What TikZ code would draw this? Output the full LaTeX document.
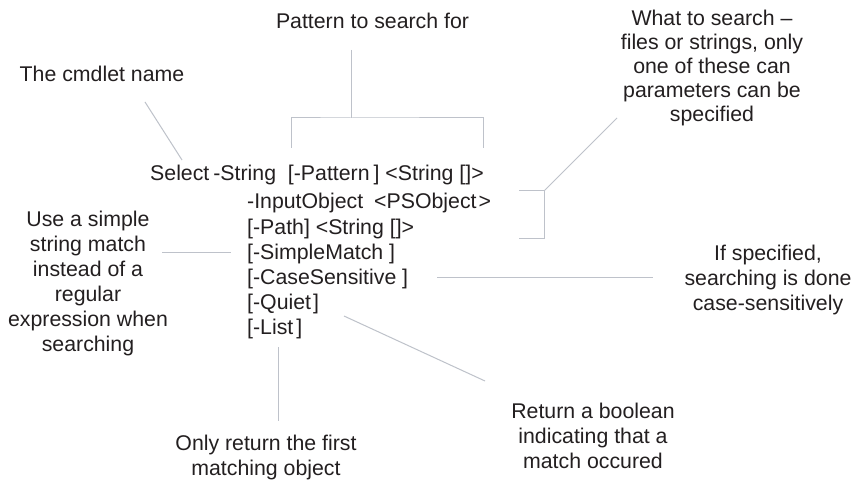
\documentclass[tikz,border=0pt]{standalone}
\usepackage{fontspec}
\setmainfont{Liberation Sans}
\definecolor{txt}{RGB}{35,31,32}
\definecolor{ln}{RGB}{190,194,202}
\newcommand{\mystrut}{\rule{0pt}{16pt}}
\begin{document}
\begin{tikzpicture}[x=1pt,y=-1pt,
  lbl/.style={font=\fontsize{21.3}{25}\selectfont, text=txt, inner sep=0pt, align=center, anchor=north},
  code/.style={font=\fontsize{21.3}{25}\selectfont, text=txt, inner sep=0pt, anchor=base west},
  conn/.style={draw=ln, line width=1pt}]
\useasboundingbox (0,0) rectangle (854,481);
\fill[white] (0,0) rectangle (854,481);

% code lines
\node[code] (l1) at (150,181) {Select\hspace{4pt}-String\ \ [-Pattern\hspace{4pt}] <String []>};
\node[code] (l2) at (247,209) {-InputObject\hspace{11pt}<PSObject\hspace{2pt}>};
\node[code] (l3) at (247,234) {[-Path] <String []>};
\node[code] (l4) at (247,259) {[-SimpleMatch ]};
\node[code] (l5) at (247,284) {[-CaseSensitive ]};
\node[code] (l6) at (247,309) {[-Quiet\hspace{2pt}]};
\node[code] (l7) at (247,334) {[-List\hspace{3pt}]};

% labels
\node[lbl, anchor=base] (cmd) at (102,82) {The cmdlet name};
\node[lbl, anchor=base] (pat) at (372.5,29) {Pattern to search for};
\node[lbl, font=\fontsize{21.3}{24}\selectfont] (what) at (712,9) {\mystrut What to search –\\files or strings, only\\one of these can\\parameters can be\\specified};
\node[lbl] (use) at (88,210.5) {\mystrut Use a simple\\string match\\instead of a\\regular\\expression when\\searching};
\node[lbl] (ifs) at (768,244) {\mystrut If specified,\\searching is done\\case-sensitively};
\node[lbl] (ret) at (593,402) {\mystrut Return a boolean\\indicating that a\\match occured};
\node[lbl] (only) at (266,434) {\mystrut Only return the first\\matching object};

% connector coordinates
\coordinate (cmdA) at (145,102);
\coordinate (cmdB) at (182,160);
\coordinate (patA) at (351,50);
\coordinate (patB) at (351,118);
\coordinate (brL) at (291,148);
\coordinate (brR) at (483,148);
\coordinate (whA) at (617,118);
\coordinate (whB) at (544,191);
\coordinate (wbT) at (519,191);
\coordinate (wbB) at (519,239);
\coordinate (wbC) at (544,239);
\coordinate (useA) at (162,252);
\coordinate (useB) at (231,252);
\coordinate (csA) at (437,277);
\coordinate (csB) at (653,277);
\coordinate (qA) at (344,316);
\coordinate (qB) at (485,381);
\coordinate (liA) at (278,347);
\coordinate (liB) at (278,421);

% connectors
\draw[conn] (cmdA) -- (cmdB);
\draw[conn] (patA) -- (patB);
\draw[conn] (brL) |- (patB) -| (brR);
\draw[conn] (whA) -- (whB);
\draw[conn] (wbT) -- (whB) -- (wbC) -- (wbB);
\draw[conn] (useA) -- (useB);
\draw[conn] (csA) -- (csB);
\draw[conn] (qA) -- (qB);
\draw[conn] (liA) -- (liB);
\end{tikzpicture}
\end{document}
